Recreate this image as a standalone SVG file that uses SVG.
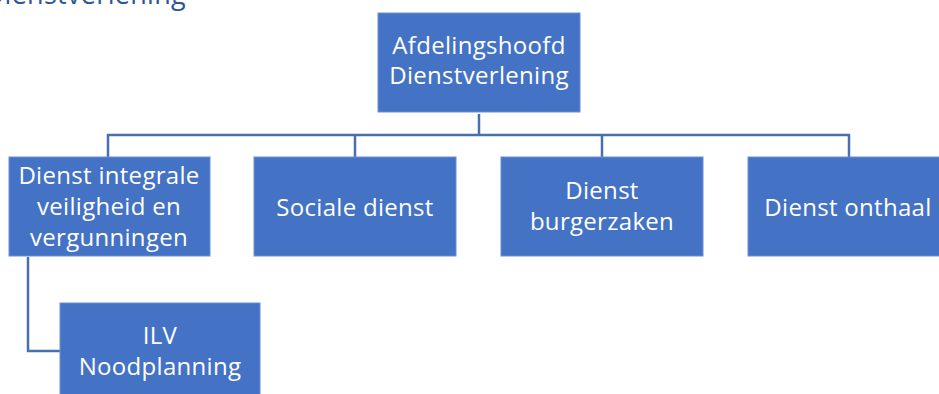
<svg xmlns="http://www.w3.org/2000/svg" width="939" height="394" viewBox="0 0 939 394">
<style>
.box{fill:#4472C4;stroke:#6A8FD0;stroke-width:1}
.t{font-family:"Open Sans","Liberation Sans",sans-serif;font-size:24px;letter-spacing:0.3px;fill:#FFFFFF;text-anchor:middle}
.c{fill:none;stroke:#4A6FAF;stroke-width:2.5}
</style>
<rect width="939" height="394" fill="#FFFFFF"/>
<text x="186" y="4" font-family="'Open Sans','Liberation Sans',sans-serif" font-size="27" letter-spacing="0.3" fill="#2F5597" text-anchor="end">Dienstverlening</text>
<g id="connectors">
<path class="c" d="M479 114 V135 M108 157 V135 H849 V157 M355 135 V157 M602 135 V157"/>
<path class="c" d="M28 257 V351 H60"/>
</g>
<g id="afdelingshoofd">
<rect class="box" x="378" y="13" width="202" height="99"/>
<text class="t" x="479" y="54">Afdelingshoofd</text>
<text class="t" x="479" y="84">Dienstverlening</text>
</g>
<g id="integrale-veiligheid">
<rect class="box" x="9" y="157" width="201" height="99"/>
<text class="t" x="109" y="184">Dienst integrale</text>
<text class="t" x="109" y="215">veiligheid  en</text>
<text class="t" x="109" y="246">vergunningen</text>
</g>
<g id="sociale-dienst">
<rect class="box" x="254" y="157" width="202" height="99"/>
<text class="t" x="355" y="216">Sociale dienst</text>
</g>
<g id="burgerzaken">
<rect class="box" x="501" y="157" width="202" height="99"/>
<text class="t" x="602" y="199">Dienst</text>
<text class="t" x="602" y="230">burgerzaken</text>
</g>
<g id="onthaal">
<rect class="box" x="748" y="157" width="202" height="99"/>
<text class="t" x="848" y="216">Dienst onthaal</text>
</g>
<g id="ilv-noodplanning">
<rect class="box" x="60" y="303" width="200" height="99"/>
<text class="t" x="160" y="344">ILV</text>
<text class="t" x="160" y="375">Noodplanning</text>
</g>
</svg>
